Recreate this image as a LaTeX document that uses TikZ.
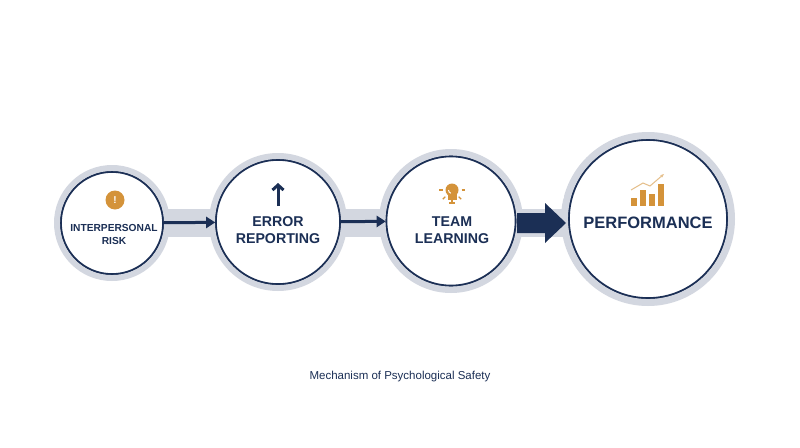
\documentclass[tikz,border=0pt]{standalone}
\usepackage{fontspec}
\setmainfont{Liberation Sans}
\usetikzlibrary{arrows.meta,calc}
\definecolor{navy}{HTML}{1B2F55}
\definecolor{halo}{HTML}{D3D7E0}
\definecolor{gold}{HTML}{D4933A}
\begin{document}
\begin{tikzpicture}[x=1pt,y=-1pt,
  step/.style={circle,draw=navy,line width=1.6pt,fill=white,minimum size=#1,inner sep=0pt},
  lbl/.style={text=navy,font=\bfseries,align=center},
  conn/.style={draw=navy,line width=3pt,-{Triangle[length=9pt,width=11pt]}}]
\useasboundingbox (0,0) rectangle (800,447);
\fill[white] (0,0) rectangle (800,447);
% halo
\fill[halo] (112,209) rectangle (648,237);
\foreach \x/\y/\r in {112/223/58,278/222/69,451/221/72,648/219/87}{
  \fill[halo] (\x,\y) circle (\r);}
\foreach \a/\b/\ra/\rb in {112/278/58/69,278/451/69/72,451/648/72/87}{
  \fill[white] ({(\a+\ra+\b-\rb)/2},197) ellipse ({(\b-\rb-\a-\ra)/2+3} and 8);
  \fill[white] ({(\a+\ra+\b-\rb)/2},249) ellipse ({(\b-\rb-\a-\ra)/2+3} and 8);}
\node[step=102pt] (c1) at (112,223) {};
\node[step=124pt] (c2) at (278,222) {};
\node[step=129pt] (c3) at (451,221) {};
\node[step=158pt] (c4) at (648,219) {};
\fill[white] (112,223) circle (51) (278,222) circle (62) (451,221) circle (64.5) (648,219) circle (79);
\node[step=102pt] at (112,223) {};
\node[step=124pt] at (278,222) {};
\node[step=129pt] at (451,221) {};
\node[step=158pt] at (648,219) {};
\node[lbl,font=\bfseries\fontsize{10.2}{13}\selectfont] (t1) at (114,234) {INTERPERSONAL\\RISK};
\node[lbl,font=\bfseries\fontsize{14.2}{17}\selectfont] (t2) at (278,230) {ERROR\\REPORTING};
\node[lbl,font=\bfseries\fontsize{14.2}{17}\selectfont] (t3) at (452,230) {TEAM\\LEARNING};
\node[lbl,font=\bfseries\fontsize{16.5}{20}\selectfont] (t4) at (648,223) {PERFORMANCE};
\draw[conn] (c1) -- (c2);
\draw[conn] (c2) -- (c3);
\fill[navy] (517,213) -- (545,213) -- (545,203) -- (566,223) -- (545,243) -- (545,233) -- (517,233) -- cycle;
% icons
\node[circle,fill=gold,minimum size=19pt,inner sep=0pt,text=white,font=\bfseries] (i1) at (115,200) {!};
\draw[navy,line width=3pt,-{Straight Barb[length=5pt,width=11pt,line width=3pt]}] (278,206) -- (278,183);
% bulb
\fill[gold] (452,190) circle (6.5);
\fill[gold] (447.5,192) rectangle (456.5,200);
\fill[gold] (449,201.5) rectangle (455,204);
\draw[white,line width=1pt] (448.5,190) arc (180:110:3.5);
\foreach \ang in {180,135,90,45,0}{\draw[gold,line width=1.2pt] ($(452,190)+(\ang:9.5)$) -- ($(452,190)+(\ang:13)$);}
% chart
\fill[gold] (631,198) rectangle (637,206);
\fill[gold] (640,190) rectangle (646,206);
\fill[gold] (649,194) rectangle (655,206);
\fill[gold] (658,184) rectangle (664,206);
\draw[gold!60,line width=1pt,-{Stealth[length=4pt]}] (631,190) -- (643,183) -- (650,186) -- (664,174);
\node[text=navy,font=\fontsize{11.5}{13}\selectfont] (cap) at (400,377) {Mechanism of Psychological Safety};
\end{tikzpicture}
\end{document}
